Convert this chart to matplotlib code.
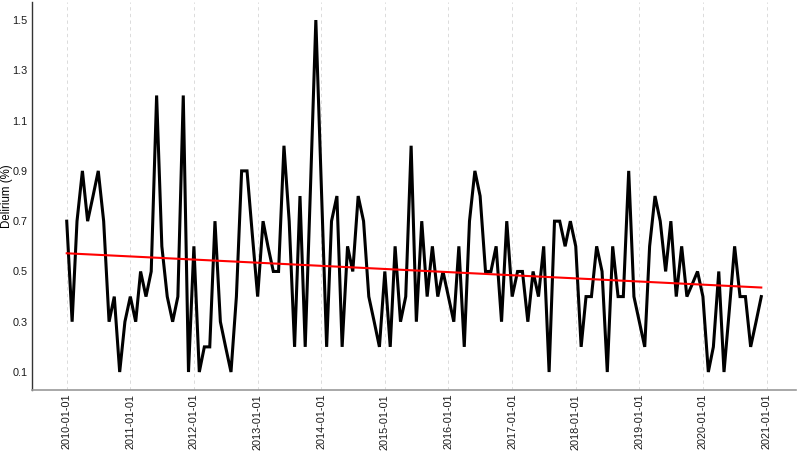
import numpy as np
import pandas as pd
import matplotlib
matplotlib.use("Agg")
import matplotlib.pyplot as plt
import matplotlib.dates as mdates

plt.rcParams["font.family"] = ["Liberation Sans", "DejaVu Sans"]

# monthly delirium rate (%), Jan 2010 - Dec 2020
start_month = "2010-01-01"
delirium = [
    0.7, 0.3, 0.7, 0.9, 0.7, 0.8, 0.9, 0.7, 0.3, 0.4, 0.1, 0.3,      # 2010
    0.4, 0.3, 0.5, 0.4, 0.5, 1.2, 0.6, 0.4, 0.3, 0.4, 1.2, 0.1,      # 2011
    0.6, 0.1, 0.2, 0.2, 0.7, 0.3, 0.2, 0.1, 0.4, 0.9, 0.9, 0.65,     # 2012
    0.4, 0.7, 0.6, 0.5, 0.5, 1.0, 0.7, 0.2, 0.8, 0.2, 0.85, 1.5,     # 2013
    0.85, 0.2, 0.7, 0.8, 0.2, 0.6, 0.5, 0.8, 0.7, 0.4, 0.3, 0.2,     # 2014
    0.5, 0.2, 0.6, 0.3, 0.4, 1.0, 0.3, 0.7, 0.4, 0.6, 0.4, 0.5,      # 2015
    0.4, 0.3, 0.6, 0.2, 0.7, 0.9, 0.8, 0.5, 0.5, 0.6, 0.3, 0.7,      # 2016
    0.4, 0.5, 0.5, 0.3, 0.5, 0.4, 0.6, 0.1, 0.7, 0.7, 0.6, 0.7,      # 2017
    0.6, 0.2, 0.4, 0.4, 0.6, 0.5, 0.1, 0.6, 0.4, 0.4, 0.9, 0.4,      # 2018
    0.3, 0.2, 0.6, 0.8, 0.7, 0.5, 0.7, 0.4, 0.6, 0.4, 0.45, 0.5,     # 2019
    0.4, 0.1, 0.2, 0.5, 0.1, 0.35, 0.6, 0.4, 0.4, 0.2, 0.3, 0.4,     # 2020
]
y_ticks = [0.1, 0.3, 0.5, 0.7, 0.9, 1.1, 1.3, 1.5]
year_ticks = pd.date_range("2010-01-01", "2021-01-01", freq="YS")

dates = pd.date_range(start_month, periods=len(delirium), freq="MS")
vals = np.array(delirium)
xnum = mdates.date2num(dates)

# linear trend (like geom_smooth(method = "lm", se = FALSE))
slope, intercept = np.polyfit(xnum, vals, 1)
trend = slope * xnum + intercept

fig = plt.figure(figsize=(7.98, 4.51), dpi=100)
ax = fig.add_axes([0.0401, 0.1361, 0.9574, 0.8585])

ax.plot(dates, vals, color="black", lw=2.2, solid_joinstyle="miter", zorder=3)
ax.plot(dates, trend, color="#FF0000", lw=1.5, zorder=4)

ax.margins(x=0.05, y=0.05)
ax.set_yticks(y_ticks)
ax.set_yticklabels([f"{t:.1f}" for t in y_ticks])
ax.set_xticks(year_ticks)
ax.xaxis.set_major_formatter(mdates.DateFormatter("%Y-%m-%d"))
plt.setp(ax.get_xticklabels(), rotation=90, ha="center", va="top")

ax.tick_params(axis="both", length=0, labelsize=7.8, colors="#1a1a1a")
ax.tick_params(axis="x", pad=3)
ax.tick_params(axis="y", pad=3)

ax.grid(axis="x", color="#d6d6d6", lw=0.6, ls=(0, (4, 4)))
ax.grid(axis="y", visible=False)
ax.set_axisbelow(True)

for s in ["top", "right"]:
    ax.spines[s].set_visible(False)
ax.spines["left"].set_color("#333333")
ax.spines["left"].set_linewidth(1.0)
ax.spines["bottom"].set_color("#9a9a9a")
ax.spines["bottom"].set_linewidth(1.2)

ax.set_ylabel("Delirium (%)", fontsize=8.3, color="black", va="center")
ax.yaxis.set_label_coords(-0.0325, 0.5)

fig.savefig("out.png", dpi=100)
